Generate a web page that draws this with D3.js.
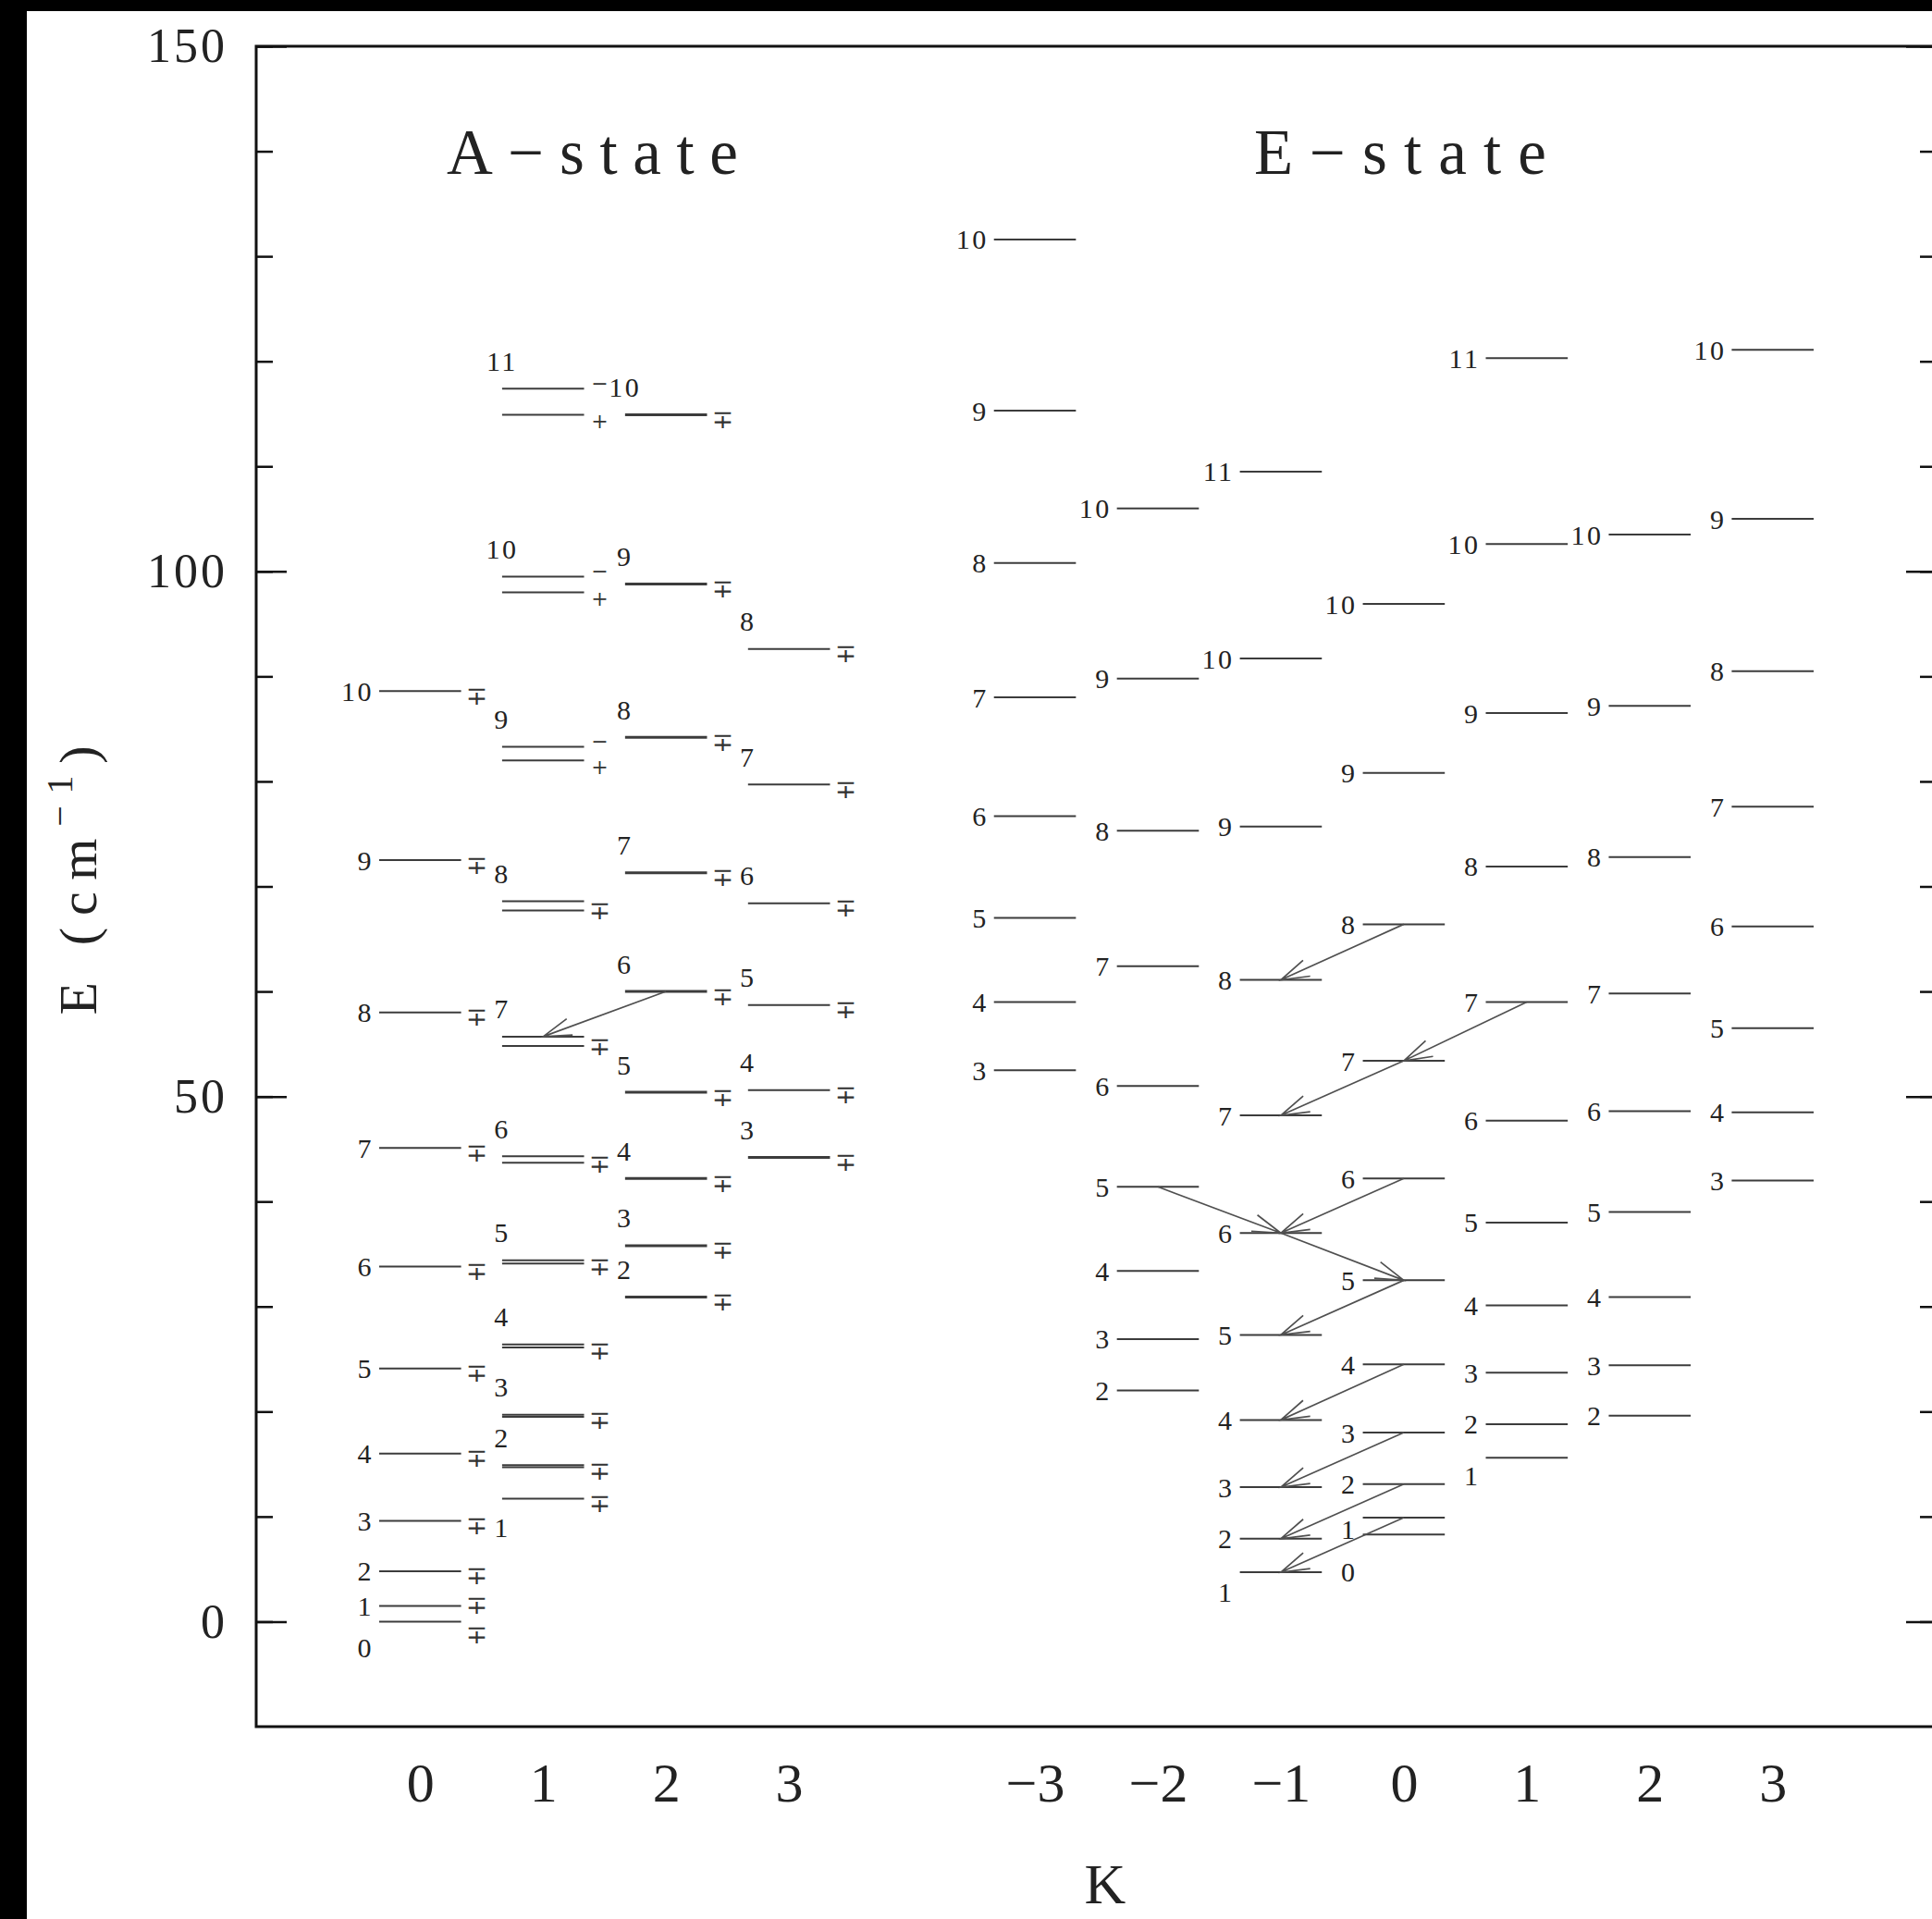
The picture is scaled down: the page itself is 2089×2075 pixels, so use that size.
<!DOCTYPE html>
<html>
<head>
<meta charset="utf-8">
<script src="https://cdn.jsdelivr.net/npm/d3@7"></script>
<style>
  html, body { margin: 0; padding: 0; background: #fff; }
  svg { display: block; }
  text { font-family: "Liberation Serif", "DejaVu Serif", serif; fill: #222; }
  .sym { font-family: "DejaVu Serif", "DejaVu Sans", serif; fill: #333; }
</style>
</head>
<body>
<svg id="chart" width="2089" height="2075"></svg>
<script>
// ── Data ──────────────────────────────────────────────────────────────────────
const yMajorTicks = [0, 50, 100, 150];
const yMinorTicks = [0, 10, 20, 30, 40, 50, 60, 70, 80, 90, 100, 110, 120, 130, 140, 150];

const kTicksA  = [0, 1, 2, 3];
const kTicksE  = [-3, -2, -1, 0, 1, 2, 3];
const kLabelsA = ["0", "1", "2", "3"];
const kLabelsE = ["−3", "−2", "−1", "0", "1", "2", "3"];

// A-state levels (cm-1), first entry is the lowest J of the ladder
const aK0      = [0, 1.5, 4.8, 9.6, 16.0, 24.1, 33.8, 45.1, 58.0, 72.5, 88.6];            // J = 0..10
const aK1Upper = [11.7, 14.9, 19.7, 26.4, 34.4, 44.3, 55.7, 68.6, 83.3, 99.5, 117.4];      // J = 1..11
const aK1Lower = [11.7, 14.7, 19.5, 26.1, 34.1, 43.7, 54.8, 67.7, 82.0, 98.0, 114.9];      // J = 1..11
const aK2      = [30.9, 35.8, 42.2, 50.4, 60.0, 71.3, 84.2, 98.8, 114.9];                  // J = 2..10
const aK3      = [44.2, 50.6, 58.7, 68.4, 79.7, 92.6];                                     // J = 3..8

// E-state levels (cm-1)
const eKm3 = [52.5, 59.0, 67.0, 76.7, 88.0, 100.8, 115.3, 131.6];                          // J = 3..10
const eKm2 = [22.0, 26.9, 33.4, 41.4, 51.0, 62.4, 75.3, 89.8, 106.0];                      // J = 2..10
const eKm1 = [4.7, 7.9, 12.8, 19.2, 27.3, 37.0, 48.2, 61.1, 75.7, 91.7, 109.5];            // J = 1..11
const eK0  = [8.3, 9.9, 13.1, 18.0, 24.5, 32.5, 42.2, 53.4, 66.4, 80.8, 96.9];             // J = 0..10
const eK1  = [15.6, 18.8, 23.7, 30.1, 38.0, 47.7, 59.0, 71.9, 86.5, 102.6, 120.3];         // J = 1..11
const eK2  = [19.6, 24.4, 30.9, 39.0, 48.6, 59.8, 72.8, 87.2, 103.5];                      // J = 2..10
const eK3  = [42.0, 48.5, 56.5, 66.2, 77.6, 90.5, 105.0, 121.1];                           // J = 3..10

// transitions [K, J] -> [K, J]
const arrowsA = [[[2, 6], [1, 7]]];
const arrowsE = [
	[[0, 8], [-1, 8]],
	[[1, 7], [0, 7]],
	[[0, 7], [-1, 7]],
	[[-2, 5], [-1, 6]],
	[[0, 6], [-1, 6]],
	[[-1, 6], [0, 5]],
	[[0, 5], [-1, 5]],
	[[0, 4], [-1, 4]],
	[[0, 3], [-1, 3]],
	[[0, 2], [-1, 2]],
	[[0, 1], [-1, 1]]
];

// ── Setup ─────────────────────────────────────────────────────────────────────
const svg = d3.select('#chart');
const W = 2089, H = 2075;
const plotLeft = 277, plotRight = 2094, plotTop = 50, plotBottom = 1867;

const x = d3.scaleLinear().domain([-4 / 3, 37 / 3]).range([plotLeft, plotRight]);
const y = d3.scaleLinear().domain([-10, 150]).range([plotBottom, plotTop]);

const col = (state, K) => state === 'A' ? K : K + 8;
const halfW = 1 / 3;

svg.append('rect').attr('width', W).attr('height', H).attr('fill', '#fff');

function ladder(state, K, vals, J0) {
	return vals.map((v, i) => ({ state, K, J: J0 + i, v }));
}

const levelsA = [
	...ladder('A', 0, aK0, 0),
	...ladder('A', 2, aK2, 2),
	...ladder('A', 3, aK3, 3)
];
const doubletsA = aK1Upper.map((v, i) => ({ state: 'A', K: 1, J: i + 1, v, lo: aK1Lower[i] }));
const levelsE = [
	...ladder('E', -3, eKm3, 3),
	...ladder('E', -2, eKm2, 2),
	...ladder('E', -1, eKm1, 1),
	...ladder('E', 0, eK0, 0),
	...ladder('E', 1, eK1, 1),
	...ladder('E', 2, eK2, 2),
	...ladder('E', 3, eK3, 3)
];

function findLevel(state, K, J) {
	if (state === 'A' && K === 1) return doubletsA.find(d => d.J === J);
	const list = state === 'A' ? levelsA : levelsE;
	return list.find(d => d.K === K && d.J === J);
}

// ── Level lines ───────────────────────────────────────────────────────────────
const linesG = svg.append('g').attr('stroke', '#3c3c3c').attr('fill', 'none');

linesG.selectAll('.lvA')
	.data(levelsA).join('line')
	.attr('x1', d => x(col('A', d.K) - halfW))
	.attr('x2', d => x(col('A', d.K) + halfW))
	.attr('y1', d => y(d.v)).attr('y2', d => y(d.v))
	.attr('stroke-width', d => d.K === 2 ? 3 : (d.K === 3 && d.J === 3 ? 2.8 : 2));

linesG.selectAll('.lvA1u')
	.data(doubletsA).join('line')
	.attr('x1', x(1 - halfW)).attr('x2', x(1 + halfW))
	.attr('y1', d => y(d.v)).attr('y2', d => y(d.v))
	.attr('stroke-width', 2);

linesG.selectAll('.lvA1l')
	.data(doubletsA.filter(d => d.lo !== d.v)).join('line')
	.attr('x1', x(1 - halfW)).attr('x2', x(1 + halfW))
	.attr('y1', d => y(d.lo)).attr('y2', d => y(d.lo))
	.attr('stroke-width', 2);

linesG.selectAll('.lvE')
	.data(levelsE).join('line')
	.attr('x1', d => x(col('E', d.K) - halfW))
	.attr('x2', d => x(col('E', d.K) + halfW))
	.attr('y1', d => y(d.v)).attr('y2', d => y(d.v))
	.attr('stroke-width', 2);

// ── J labels ──────────────────────────────────────────────────────────────────
// a few low-J labels sit below their line in the original
const nudge = { 'A0-0': 28, 'A1-1': 31, 'E-1-1': 21, 'E0-0': 40, 'E0-1': 12, 'E1-1': 19 };
const labelsG = svg.append('g').attr('font-size', 30).attr('letter-spacing', 2.5).attr('fill', '#2a2a2a');

// A K=0 and all E ladders: label left of line
const sideLabelled = [...levelsA.filter(d => d.K === 0), ...levelsE];
labelsG.selectAll('.sideLab')
	.data(sideLabelled).join('text')
	.attr('x', d => x(col(d.state, d.K) - halfW) - 6)
	.attr('y', d => y(d.v) + (nudge[d.state + d.K + '-' + d.J] || 0))
	.attr('text-anchor', 'end')
	.attr('dominant-baseline', 'central')
	.text(d => d.J);

// A K>=1: label above the line start
const topLabelled = [...doubletsA, ...levelsA.filter(d => d.K > 0)];
labelsG.selectAll('.topLab')
	.data(topLabelled).join('text')
	.attr('x', d => x(col('A', d.K) - halfW))
	.attr('y', d => {
		const n = nudge['A' + d.K + '-' + d.J];
		return n !== undefined ? y(d.v) + n : y(d.v) - 30;
	})
	.attr('text-anchor', 'middle')
	.attr('dominant-baseline', 'central')
	.text(d => d.J);

// ── Parity symbols (A-state) ──────────────────────────────────────────────────
const symG = svg.append('g').attr('class', 'sym').attr('font-size', 28).attr('text-anchor', 'middle');
// the two lowest K=0 symbols are pulled apart so they do not collide
const symShift = { 'A0-0': 14, 'A0-1': -1 };

symG.selectAll('.pm')
	.data(levelsA).join('text')
	.attr('class', 'sym')
	.attr('x', d => x(col('A', d.K) + halfW) + 17)
	.attr('y', d => {
		const s = symShift['A' + d.K + '-' + d.J];
		return y(d.v) + (s !== undefined ? s : 5);
	})
	.attr('dominant-baseline', 'central')
	.text('∓');

doubletsA.forEach(d => {
	const sx = x(1 + halfW) + 17;
	if (d.J >= 9) {
		// split doublet: minus by the upper line, plus by the lower one
		symG.append('text').attr('class', 'sym').attr('font-size', 22)
			.attr('x', sx).attr('y', y(d.v) - 6)
			.attr('dominant-baseline', 'central').text('−');
		symG.append('text').attr('class', 'sym').attr('font-size', 22)
			.attr('x', sx).attr('y', y(d.lo) + 7)
			.attr('dominant-baseline', 'central').text('+');
	} else {
		symG.append('text').attr('class', 'sym')
			.attr('x', sx).attr('y', (y(d.v) + y(d.lo)) / 2 + 5)
			.attr('dominant-baseline', 'central').text('∓');
	}
});

// ── Transition arrows ─────────────────────────────────────────────────────────
const arrowG = svg.append('g').attr('stroke', '#505050').attr('stroke-width', 1.7).attr('fill', 'none');

function drawArrow(state, from, to) {
	const a = findLevel(state, from[0], from[1]);
	const b = findLevel(state, to[0], to[1]);
	const x1 = x(col(state, a.K)), y1 = y(a.v);
	const x2 = x(col(state, b.K)), y2 = y(b.v);
	const ang = Math.atan2(y2 - y1, x2 - x1);
	const len = 32, half = 17 * Math.PI / 180;
	const p = d3.path();
	p.moveTo(x1, y1); p.lineTo(x2, y2);
	p.moveTo(x2 - len * Math.cos(ang - half), y2 - len * Math.sin(ang - half));
	p.lineTo(x2, y2);
	p.lineTo(x2 - len * Math.cos(ang + half), y2 - len * Math.sin(ang + half));
	arrowG.append('path').attr('d', p.toString());
}
arrowsA.forEach(([f, t]) => drawArrow('A', f, t));
arrowsE.forEach(([f, t]) => drawArrow('E', f, t));

// ── Axes and frame ────────────────────────────────────────────────────────────
const axG = svg.append('g');

function styleAxis(g) {
	g.select('.domain').remove();
	g.selectAll('line').attr('stroke', '#111').attr('stroke-width', 2.5);
}

axG.append('g').attr('transform', `translate(${plotLeft},0)`)
	.call(d3.axisLeft(y).tickValues(yMinorTicks).tickSizeInner(-18).tickSizeOuter(0).tickFormat(''))
	.call(styleAxis);
axG.append('g').attr('transform', `translate(${plotLeft},0)`)
	.call(d3.axisLeft(y).tickValues(yMajorTicks).tickSizeInner(-33).tickSizeOuter(0).tickPadding(31))
	.call(styleAxis)
	.call(g => g.selectAll('text').attr('font-size', 52).attr('fill', '#1a1a1a')
		.attr('font-family', '"Liberation Serif", serif').attr('letter-spacing', 3));

axG.append('g').attr('transform', `translate(${plotRight},0)`)
	.call(d3.axisRight(y).tickValues(yMinorTicks).tickSizeInner(-18).tickSizeOuter(0).tickFormat(''))
	.call(styleAxis);
axG.append('g').attr('transform', `translate(${plotRight},0)`)
	.call(d3.axisRight(y).tickValues(yMajorTicks).tickSizeInner(-33).tickSizeOuter(0).tickFormat(''))
	.call(styleAxis);

const kPos = [...kTicksA.map(k => col('A', k)), ...kTicksE.map(k => col('E', k))];
const kLab = [...kLabelsA, ...kLabelsE];
axG.append('g').attr('transform', `translate(0,${plotBottom})`)
	.call(d3.axisBottom(x).tickValues(kPos).tickSize(0).tickFormat((d, i) => kLab[i]))
	.call(g => g.select('.domain').remove())
	.call(g => g.selectAll('text')
		.attr('y', 81).attr('dy', null)
		.attr('font-size', 60).attr('fill', '#2a2a2a')
		.attr('font-family', '"Liberation Serif", serif'));

svg.append('rect')
	.attr('x', plotLeft).attr('y', plotTop)
	.attr('width', plotRight - plotLeft).attr('height', plotBottom - plotTop)
	.attr('fill', 'none').attr('stroke', '#111').attr('stroke-width', 3);

// ── Titles ────────────────────────────────────────────────────────────────────
svg.append('text')
	.attr('x', x(1.4)).attr('y', 188)
	.attr('text-anchor', 'middle').attr('font-size', 69)
	.attr('textLength', 315).attr('lengthAdjust', 'spacing')
	.text('A−state');
svg.append('text')
	.attr('x', x(7.97)).attr('y', 188)
	.attr('text-anchor', 'middle').attr('font-size', 69)
	.attr('textLength', 316).attr('lengthAdjust', 'spacing')
	.text('E−state');

// axis titles
const yTitle = svg.append('text')
	.attr('transform', 'translate(84,952) rotate(-90)')
	.attr('text-anchor', 'middle').attr('dominant-baseline', 'central')
	.attr('font-size', 58).attr('textLength', 291).attr('lengthAdjust', 'spacing');
yTitle.append('tspan').text('E (cm');
yTitle.append('tspan').attr('font-size', 40).attr('dy', -20).text('−1');
yTitle.append('tspan').attr('dy', 20).text(')');

svg.append('text')
	.attr('x', 1195).attr('y', 2058)
	.attr('text-anchor', 'middle').attr('font-size', 62)
	.text('K');

// black scan borders
svg.append('rect').attr('x', 0).attr('y', 0).attr('width', 29).attr('height', H).attr('fill', '#000');
svg.append('rect').attr('x', 0).attr('y', 0).attr('width', W).attr('height', 12).attr('fill', '#000');
</script>
</body>
</html>
